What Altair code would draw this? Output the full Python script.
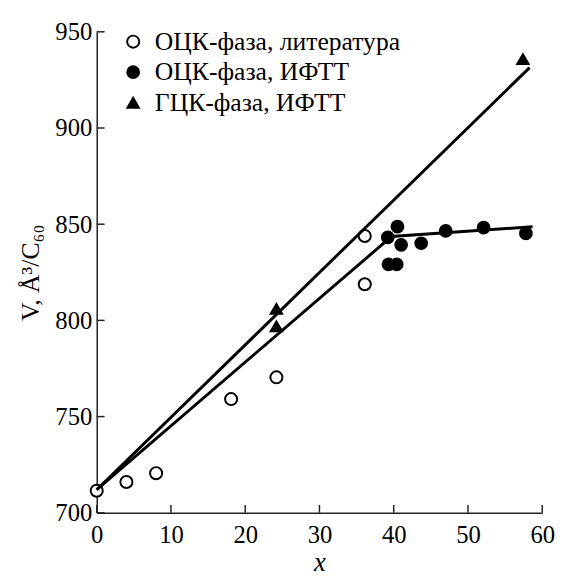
import altair as alt
import pandas as pd

# ---- data ----
series_names = ["ОЦК-фаза, литература", "ОЦК-фаза, ИФТТ", "ГЦК-фаза, ИФТТ"]

lit_x = [0.0, 4.0, 8.0, 18.1, 24.2, 36.1, 36.1]
lit_v = [711.5, 716.0, 720.6, 759.1, 770.4, 843.9, 818.8]

bcc_x = [39.2, 40.5, 41.0, 39.3, 40.4, 43.7, 47.0, 52.1, 57.8]
bcc_v = [843.2, 848.7, 839.3, 829.1, 829.1, 840.1, 846.5, 848.2, 845.2]

fcc_x = [24.2, 24.2, 57.4]
fcc_v = [806.0, 796.9, 935.8]

fcc_fit_x = [0.0, 58.3]
fcc_fit_v = [712.0, 931.4]
bcc_fit_x = [0.0, 39.7, 58.7]
bcc_fit_v = [712.0, 843.6, 848.7]

x_ticks = [0, 10, 20, 30, 40, 50, 60]
y_ticks = [700, 750, 800, 850, 900, 950]

# ---- tables ----
pts = pd.concat([
    pd.DataFrame({"x": lit_x, "v": lit_v, "series": series_names[0]}),
    pd.DataFrame({"x": bcc_x, "v": bcc_v, "series": series_names[1]}),
    pd.DataFrame({"x": fcc_x, "v": fcc_v, "series": series_names[2]}),
], ignore_index=True)

fits = pd.concat([
    pd.DataFrame({"x": fcc_fit_x, "v": fcc_fit_v, "fit": "fcc"}),
    pd.DataFrame({"x": bcc_fit_x, "v": bcc_fit_v, "fit": "bcc"}),
], ignore_index=True)

xt = pd.DataFrame({"t": x_ticks})
yt = pd.DataFrame({"t": y_ticks})

FONT = "Liberation Serif"
W, H = 452, 488

xs = alt.Scale(domain=[0, 60], nice=False, zero=False)
ys = alt.Scale(domain=[700, 950], nice=False, zero=False)

x_axis = alt.Axis(values=x_ticks, title="x", ticks=False, grid=False, format="d",
                  labelFont=FONT, labelFontSize=25, labelColor="black", labelPadding=10,
                  labelFlush=False, labelOverlap=False,
                  domainColor="#222222", domainWidth=1.5,
                  titleFont=FONT, titleFontSize=27, titleFontStyle="italic",
                  titleFontWeight="normal", titleColor="black", titlePadding=3)
y_axis = alt.Axis(values=y_ticks, title="V, Å³/C₆₀", ticks=False, grid=False, format="d",
                  labelFont=FONT, labelFontSize=25, labelColor="black", labelPadding=5,
                  labelFlush=False, labelOverlap=False,
                  domainColor="#222222", domainWidth=1.5,
                  titleFont=FONT, titleFontSize=26, titleFontWeight="normal",
                  titleColor="black", titlePadding=12)

legend = alt.Legend(title=None, orient="none", legendX=24, legendY=-3,
                    labelFont=FONT, labelFontSize=26, labelColor="black", labelLimit=0,
                    labelOffset=9, rowPadding=5, padding=0,
                    symbolStrokeColor="black", symbolStrokeWidth=2)

lines = alt.Chart(fits).mark_line(color="black", strokeWidth=3).encode(
    x=alt.X("x:Q", scale=xs, axis=x_axis),
    y=alt.Y("v:Q", scale=ys, axis=y_axis),
    detail="fit:N",
    order="x:Q",
)

points = alt.Chart(pts).mark_point(filled=True, strokeWidth=2, opacity=1).encode(
    x=alt.X("x:Q", scale=xs),
    y=alt.Y("v:Q", scale=ys),
    shape=alt.Shape("series:N", scale=alt.Scale(domain=series_names,
                    range=["circle", "circle", "triangle-up"]), legend=legend),
    fill=alt.Fill("series:N", scale=alt.Scale(domain=series_names,
                  range=["white", "black", "black"]), legend=legend),
    stroke=alt.Stroke("series:N", scale=alt.Scale(domain=series_names,
                      range=["black", "black", "black"]), legend=legend),
    size=alt.Size("series:N", scale=alt.Scale(domain=series_names,
                  range=[150, 135, 300]), legend=legend),
)

yticks = alt.Chart(yt).mark_rule(color="#222222", strokeWidth=1.5).encode(
    y=alt.Y("t:Q", scale=ys), x=alt.value(0), x2=alt.value(8))
xticks = alt.Chart(xt).mark_rule(color="#222222", strokeWidth=1.5).encode(
    x=alt.X("t:Q", scale=xs), y=alt.value(H), y2=alt.value(H - 8))

chart = alt.layer(points, lines, yticks, xticks).properties(
    width=W, height=H,
    autosize=alt.AutoSizeParams(type="none"),
    padding={"left": 90, "top": 20, "right": 16, "bottom": 62},
).configure_view(stroke=None).configure_legend(
    labelFont=FONT, labelFontSize=26, labelColor="black", labelLimit=0
)

chart.save("out.html", embed_options={"renderer": "svg", "actions": False})
